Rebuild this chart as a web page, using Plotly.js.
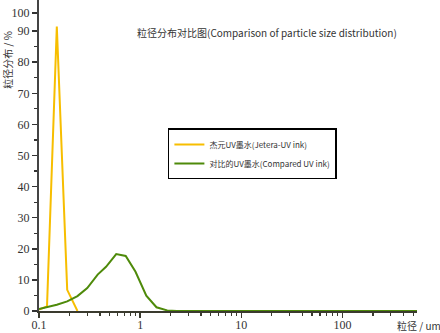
<!DOCTYPE html>
<html>
<head>
<meta charset="utf-8">
<script src="https://cdn.plot.ly/plotly-3.0.1.min.js"></script>
<style>html,body{margin:0;padding:0;background:#fff;}#chart{width:440px;height:333px;}</style>
</head>
<body>
<div id="chart"></div>
<script>
// Particle size (um) and distribution (%)
var sizeJetera = [0.1, 0.12, 0.15, 0.19, 0.24];
var distJetera = [0.5, 1.5, 91.5, 6.8, 0];

var sizeCompared = [0.1, 0.12, 0.15, 0.19, 0.24, 0.3, 0.38, 0.46, 0.58, 0.72, 0.9, 1.15, 1.45, 1.85, 2.3, 10, 100, 550];
var distCompared = [0.6, 1.2, 2.0, 3.1, 4.8, 7.4, 11.7, 14.2, 18.3, 17.7, 12.6, 4.9, 1.2, 0.2, 0, 0, 0, 0];

var seriesNames = ['杰元UV墨水(Jetera-UV ink)', '对比的UV墨水(Compared UV ink)'];

var xTickVals = [0.1, 1, 10, 100];
var xTickText = ['0.1', '1', '10', '100'];
var xMinorVals = [0.2,0.3,0.4,0.5,0.6,0.7,0.8,0.9,2,3,4,5,6,7,8,9,20,30,40,50,60,70,80,90,200,300,400,500];

var yTickVals = [0, 10, 20, 30, 40, 50, 60, 70, 80, 90, 95.8];
var yTickText = ['0', '10', '20', '30', '40', '50', '60', '70', '80', '90', '100'];
var yMinorVals = [5, 15, 25, 35, 45, 55, 65, 75, 85];

var chartTitle = '粒径分布对比图(Comparison of particle size distribution)';
var yTitle = '粒径分布 / %';
var xTitle = '粒径 / um';

var traces = [
  {x: sizeJetera, y: distJetera, mode: 'lines', name: seriesNames[0],
   line: {color: '#F7BE00', width: 2}},
  {x: sizeCompared, y: distCompared, mode: 'lines', name: seriesNames[1],
   line: {color: '#4E8A0A', width: 2}}
];

var tickFont = {family: 'Liberation Serif, DejaVu Serif, serif', size: 12, color: '#333'};

var layout = {
  width: 440, height: 333,
  margin: {l: 39, r: 23, t: 0, b: 22},
  paper_bgcolor: '#fff', plot_bgcolor: '#fff',
  showlegend: true,
  legend: {
    x: 0.341, y: 0.587, xanchor: 'left', yanchor: 'top',
    bordercolor: '#000', borderwidth: 1.5, bgcolor: '#fff',
    font: {family: 'Noto Sans CJK SC, sans-serif', size: 8, color: '#333'},
    tracegroupgap: 0, itemwidth: 30
  },
  xaxis: {
    type: 'log', range: [-1, 2.737],
    showgrid: false, zeroline: false,
    showline: true, linecolor: '#3a3a2e', linewidth: 2,
    ticks: 'outside', ticklen: 5, tickwidth: 1.5, tickcolor: '#3a3a2e',
    tickmode: 'array', tickvals: xTickVals, ticktext: xTickText,
    tickfont: tickFont, ticklabelstandoff: -3,
    minor: {tickmode: 'array', tickvals: xMinorVals, ticks: 'outside', ticklen: 3, tickwidth: 1.2, tickcolor: '#3a3a2e', showgrid: false}
  },
  yaxis: {
    range: [0, 100],
    showgrid: false, zeroline: false,
    showline: true, linecolor: '#444', linewidth: 2,
    ticks: 'outside', ticklen: 5, tickwidth: 1.5, tickcolor: '#333',
    tickmode: 'array', tickvals: yTickVals, ticktext: yTickText,
    tickfont: tickFont,
    minor: {tickmode: 'array', tickvals: yMinorVals, ticks: 'outside', ticklen: 3, tickwidth: 1.2, tickcolor: '#333', showgrid: false}
  },
  annotations: [
    {text: chartTitle, xref: 'paper', yref: 'paper', x: 0.603, y: 0.894,
     showarrow: false, xanchor: 'center', yanchor: 'middle',
     font: {family: 'Noto Sans CJK SC, sans-serif', size: 10, color: '#333'}},
    {text: yTitle, xref: 'paper', yref: 'paper', x: -0.082, y: 0.808,
     showarrow: false, textangle: -90, xanchor: 'center', yanchor: 'middle',
     font: {family: 'Noto Sans CJK SC, sans-serif', size: 10, color: '#333'}},
    {text: xTitle, xref: 'paper', yref: 'paper', x: 1.005, y: -0.048,
     showarrow: false, xanchor: 'center', yanchor: 'middle',
     font: {family: 'Noto Sans CJK SC, sans-serif', size: 10, color: '#333'}}
  ]
};

Plotly.newPlot('chart', traces, layout, {displayModeBar: false, staticPlot: true});
</script>
</body>
</html>
